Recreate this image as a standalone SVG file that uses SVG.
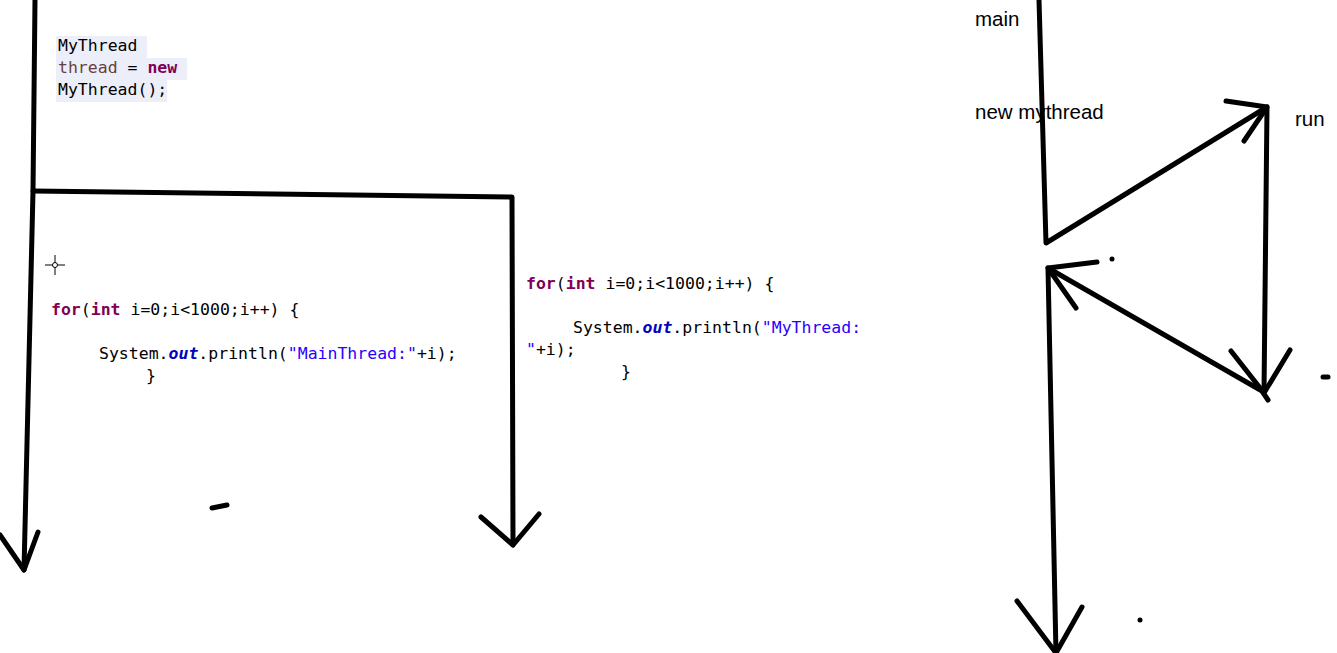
<svg xmlns="http://www.w3.org/2000/svg" width="1337" height="653" viewBox="0 0 1337 653">
<style>
.code{font-family:"DejaVu Sans Mono","Liberation Mono",monospace;font-size:16.5px;fill:#000}
.kw{fill:#7f0055;font-weight:bold}
.fld{fill:#0000c0;font-weight:bold;font-style:italic}
.str{fill:#2a00ff}
.var{fill:#6a3e3e}
.lbl{font-family:"Liberation Sans","Open Sans",sans-serif;font-size:20.5px;fill:#000}
.ln{stroke:#000;stroke-width:5;fill:none;stroke-linecap:round;stroke-linejoin:round}
.hl{fill:#eceff9}
</style>
<rect width="1337" height="653" fill="#fff"/>
<g id="code-new">
<rect class="hl" x="56" y="36" width="91" height="22"/>
<rect class="hl" x="56" y="58" width="131" height="22"/>
<rect class="hl" x="56" y="80" width="111" height="22"/>
<text class="code" x="58" y="51">MyThread</text>
<text class="code" x="58" y="73"><tspan class="var">thread</tspan> = <tspan class="kw">new</tspan></text>
<text class="code" x="58" y="95">MyThread();</text>
</g>
<g id="code-main">
<text class="code" x="51" y="315"><tspan class="kw">for</tspan>(<tspan class="kw">int</tspan> i=0;i&lt;1000;i++) {</text>
<text class="code" x="99" y="359">System.<tspan class="fld">out</tspan>.println(<tspan class="str">"MainThread:"</tspan>+i);</text>
<text class="code" x="146" y="381">}</text>
</g>
<g id="code-thread">
<text class="code" x="526" y="289"><tspan class="kw">for</tspan>(<tspan class="kw">int</tspan> i=0;i&lt;1000;i++) {</text>
<text class="code" x="573" y="333">System.<tspan class="fld">out</tspan>.println(<tspan class="str">"MyThread:</tspan></text>
<text class="code" x="526" y="355"><tspan class="str">"</tspan>+i);</text>
<text class="code" x="621" y="377">}</text>
</g>
<g id="labels">
<text class="lbl" x="975" y="26">main</text>
<text class="lbl" x="975" y="119">new mythread</text>
<text class="lbl" x="1295" y="126">run</text>
</g>
<g id="cursor" stroke="#000" stroke-width="1" fill="none">
<line x1="45" y1="265" x2="65" y2="265"/>
<line x1="55" y1="255" x2="55" y2="275"/>
<circle cx="55" cy="265" r="2.5" fill="#fff"/>
</g>
<g id="connectors" class="ln">
<path class="ln" d="M35,0 L33,191 L24,570"/>
<path class="ln" d="M33,191 L512,197 L513,545"/>
<path class="ln" d="M0,535 L24,570 L38,532"/>
<path class="ln" d="M481,517 L513,545 L539,514"/>
<path class="ln" d="M1039,0 L1046,243 L1267,107 L1264,393"/>
<path class="ln" d="M1226,101 L1267,107 L1244,141"/>
<path class="ln" d="M1231,351 L1264,393 L1290,350"/>
<path class="ln" d="M1268,400 L1262,391 L1048,268 L1056,653"/>
<path class="ln" d="M1097,262 L1048,268 L1076,308"/>
<path class="ln" d="M1017,601 L1056,653 L1082,607"/>
</g>
<g id="marks" fill="#000">
<line class="ln" x1="212" y1="508" x2="227" y2="505"/>
<circle cx="1112" cy="259" r="2.5"/>
<line class="ln" x1="1323" y1="377" x2="1328" y2="377" stroke-width="4"/>
<circle cx="1140" cy="620" r="2.5"/>
</g>
</svg>
